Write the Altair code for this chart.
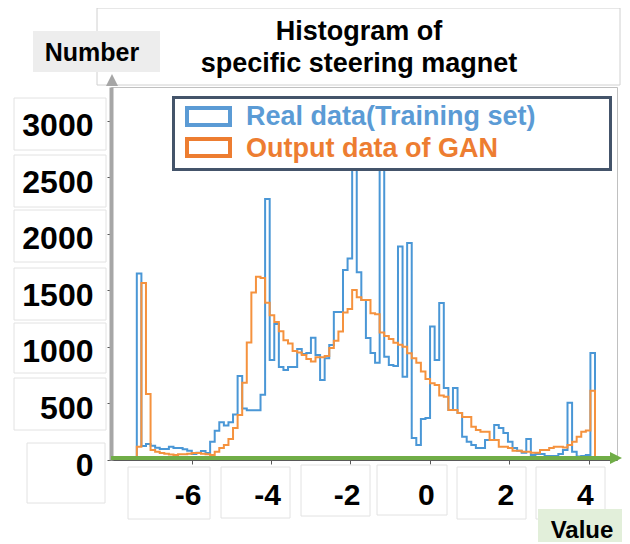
import altair as alt
import pandas as pd

# ---------------- data ----------------
SERIES = ["Real data(Training set)", "Output data of GAN"]
SERIES_COLORS = ["#4a97d6", "#f5923e"]
LEGEND_COLORS = ["#5b9bd5", "#ed7d31"]

BIN_START = -7.38
BIN_WIDTH = 0.11536

REAL_COUNTS = [
    1650, 124, 141, 127, 109, 97, 97, 118, 106, 106,
    95, 82, 53, 65, 80, 62, 162, 258, 333, 305,
    335, 402, 743, 455, 440, 440, 440, 578, 2310, 885,
    1204, 823, 797, 823, 823, 982, 938, 947, 1082, 929,
    708, 900, 1018, 1310, 1310, 1681, 1783, 3100, 1660, 1416,
    1080, 947, 861, 3100, 914, 841, 832, 1888, 737, 1920,
    195, 133, 363, 372, 1180, 885, 1389, 637, 442, 637,
    416, 206, 162, 133, 106, 106, 177, 177, 310, 283,
    239, 162, 106, 82, 65, 186, 44, 53, 53, 35,
    35, 35, 53, 88, 507, 74, 30, 35, 44, 947,
]

GAN_COUNTS = [
    118, 1565, 583, 88, 74, 62, 55, 48, 44, 50,
    50, 55, 62, 62, 55, 50, 44, 74, 106, 133,
    186, 283, 398, 684, 1040, 1481, 1622, 1610, 1392, 1280,
    1220, 1140, 1060, 1030, 965, 950, 930, 894, 872, 909,
    909, 920, 991, 1056, 1136, 1304, 1336, 1504, 1440, 1416,
    1416, 1298, 1290, 1127, 1097, 1070, 1038, 1020, 1003, 944,
    900, 861, 782, 717, 678, 664, 570, 560, 442, 442,
    416, 380, 380, 295, 265, 251, 251, 177, 177, 118,
    118, 106, 82, 82, 74, 74, 65, 65, 88, 88,
    106, 118, 118, 110, 133, 162, 206, 251, 260, 613,
]

X_TICKS = [-6, -4, -2, 0, 2, 4]
Y_TICKS = [0, 500, 1000, 1500, 2000, 2500, 3000]
X_DOMAIN = [-8.03, 4.71]
Y_DOMAIN = [0, 3300]
TITLE_LINES = ["Histogram of", "specific steering magnet"]
Y_TITLE = "Number"
X_TITLE = "Value"

FONT = "Liberation Sans"

# ---------------- build step outlines ----------------
rows = []
for name, counts in zip(SERIES, [REAL_COUNTS, GAN_COUNTS]):
    n = len(counts)
    edges = [BIN_START + BIN_WIDTH * i for i in range(n + 1)]
    pts = [(edges[0], 0)]
    pts += [(edges[i], counts[i]) for i in range(n)]
    pts += [(edges[n], counts[-1]), (edges[n], 0)]
    for k, (xv, yv) in enumerate(pts):
        rows.append({"series": name, "x": xv, "y": yv, "order": k})
df = pd.DataFrame(rows)

W, H = 506, 373

hist = alt.Chart(df).mark_line(interpolate="step-after", strokeWidth=2, clip=True).encode(
    x=alt.X(
        "x:Q",
        scale=alt.Scale(domain=X_DOMAIN, nice=False, zero=False),
        axis=alt.Axis(
            values=X_TICKS, title=None, grid=False,
            labelFont=FONT, labelFontWeight="bold", labelFontSize=30, labelColor="black",
            labelExpr="datum.value < 0 ? '-' + abs(datum.value) : '' + datum.value",
            labelBaseline="alphabetic", labelPadding=40, labelOffset=-4,
            tickSize=4, tickColor="#595959", domainColor="#595959", domainWidth=1,
        ),
    ),
    y=alt.Y(
        "y:Q",
        scale=alt.Scale(domain=Y_DOMAIN, nice=False),
        axis=alt.Axis(
            values=Y_TICKS, title=None, grid=False, format="d",
            labelFont=FONT, labelFontWeight="bold", labelFontSize=32, labelColor="black",
            labelPadding=14, labelOffset=5,
            tickSize=4, tickColor="#595959", domainColor="#a6a6a6", domainWidth=4,
        ),
    ),
    color=alt.Color("series:N", scale=alt.Scale(domain=SERIES, range=SERIES_COLORS), legend=None),
    order="order:Q",
)

one = pd.DataFrame({"k": [0]})


def box(x1, x2, y1, y2, **kw):
    return alt.Chart(one).mark_rect(**kw).encode(
        x=alt.value(x1), x2=alt.value(x2), y=alt.value(y1), y2=alt.value(y2)
    )


def label(text, x, y, **kw):
    return alt.Chart(one).mark_text(text=text, font=FONT, fontWeight="bold", **kw).encode(
        x=alt.value(x), y=alt.value(y)
    )


def frame(x1, x2, y1, y2):
    return box(x1, x2, y1, y2, fillOpacity=0, stroke="#e2e2e2", strokeWidth=1)


# faint frames drawn around the tick labels in the original slide
label_frames = [
    frame(-97, -5, 11, 63), frame(-97, -5, 68, 120), frame(-97, -5, 123, 175),
    frame(-97, -5, 181, 233), frame(-97, -5, 236, 286), frame(-97, -5, 291, 343),
    frame(-84, -6, 356, 416),
    frame(17, 99, 380, 432), frame(110, 179, 380, 431), frame(190, 259, 378, 429),
    frame(266, 336, 378, 428), frame(346, 415, 380, 432), frame(425, 494, 380, 432),
]

title_box = box(-14, 509, -79, -2, fill="white", stroke="#d0d0d0", strokeWidth=1)
number_box = box(-78, 49, -56, -15, fill="#ededed")
number_txt = label(Y_TITLE, -19, -26, fontSize=25, align="center", baseline="alphabetic", color="black")
title_txt = label(TITLE_LINES, 248, -47, fontSize=27, align="center", baseline="alphabetic",
                  lineHeight=32, color="black")

legend_box = box(62.5, 499.5, 10.5, 82.5, fill="white", stroke="#44546a", strokeWidth=3)
leg_sym1 = box(76, 119, 21, 38, fill="white", stroke=LEGEND_COLORS[0], strokeWidth=4)
leg_sym2 = box(76, 119, 52, 69, fill="white", stroke=LEGEND_COLORS[1], strokeWidth=4)
leg_txt1 = label(SERIES[0], 135, 38, fontSize=27, align="left", baseline="alphabetic", color=LEGEND_COLORS[0])
leg_txt2 = label(SERIES[1], 135, 69.5, fontSize=27, align="left", baseline="alphabetic", color=LEGEND_COLORS[1])

green_line = alt.Chart(one).mark_rule(color="#70ad47", strokeWidth=4).encode(
    x=alt.value(0), x2=alt.value(502), y=alt.value(371)
)
green_head = alt.Chart(one).mark_point(
    shape="M-1,-1L1,0L-1,1Z", filled=True, size=144, color="#70ad47", opacity=1
).encode(x=alt.value(505), y=alt.value(371))
gray_head = alt.Chart(one).mark_point(
    shape="M-1,1L0,-1L1,1Z", filled=True, size=144, color="#a6a6a6", opacity=1
).encode(x=alt.value(1), y=alt.value(-7))

value_box = box(427, 511, 422, 457, fill="#e2efda")
value_txt = label(X_TITLE, 471, 451, fontSize=24, align="center", baseline="alphabetic", color="black")

chart = alt.layer(
    *label_frames,
    title_box, number_box, number_txt, title_txt,
    hist,
    legend_box, leg_sym1, leg_sym2, leg_txt1, leg_txt2,
    green_line, green_head, gray_head,
    value_box, value_txt,
).properties(
    width=W, height=H,
    autosize=alt.AutoSizeParams(type="none"),
    padding={"left": 103, "top": 79, "right": 5, "bottom": 82},
    background="white",
).configure_view(stroke="#c0c0c0", strokeWidth=1)

chart.save("out.html", embed_options={"renderer": "svg", "actions": False})
